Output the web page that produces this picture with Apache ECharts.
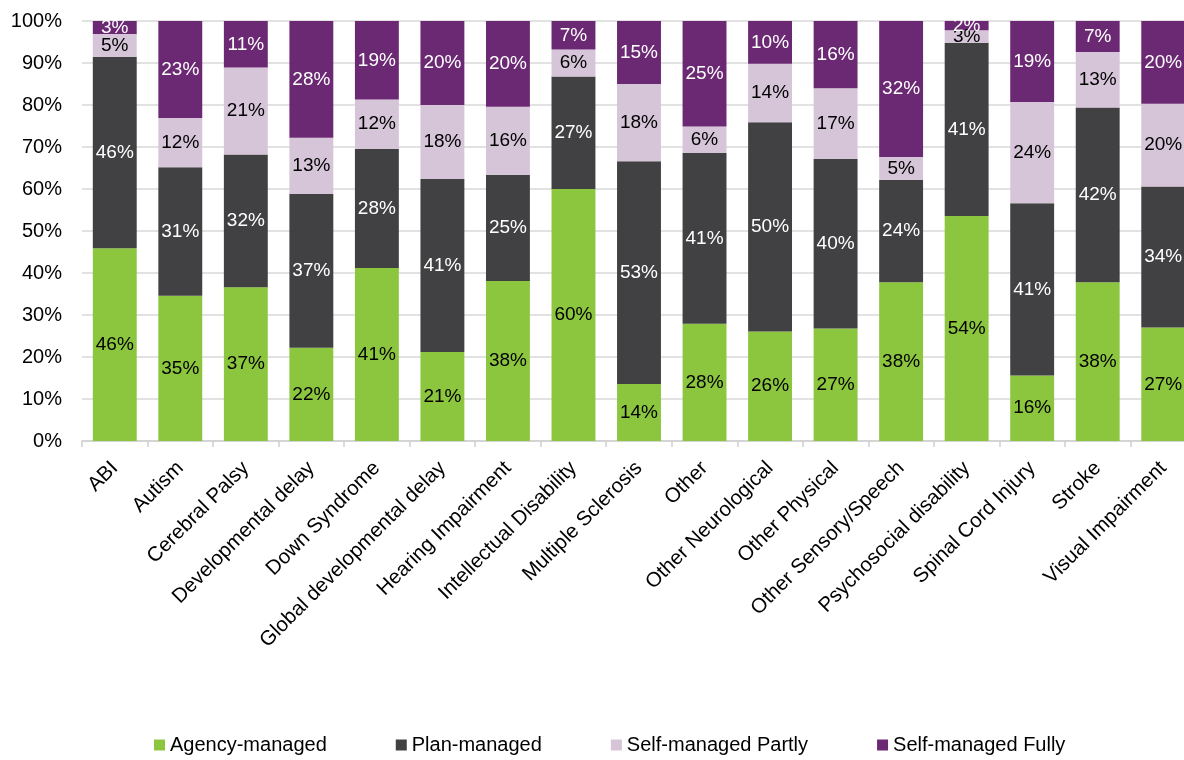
<!DOCTYPE html>
<html>
<head>
<meta charset="utf-8">
<script src="https://cdn.jsdelivr.net/npm/echarts@6/dist/echarts.min.js"></script>
<style>
  html, body { margin: 0; padding: 0; background: #fff; }
  #main { width: 1184px; height: 760px; }
</style>
</head>
<body>
<div id="main"></div>
<script>
var categories = ['ABI', 'Autism', 'Cerebral Palsy', 'Developmental delay', 'Down Syndrome',
    'Global developmental delay', 'Hearing Impairment', 'Intellectual Disability', 'Multiple Sclerosis',
    'Other', 'Other Neurological', 'Other Physical', 'Other Sensory/Speech', 'Psychosocial disability',
    'Spinal Cord Injury', 'Stroke', 'Visual Impairment'];
var agencyManaged = [45.9, 34.6, 36.6, 22.2, 41.2, 21.2, 38.1, 60.0, 13.6, 27.9, 26.1, 26.8, 37.8, 53.6, 15.6, 37.8, 27.0];
var planManaged   = [45.6, 30.6, 31.6, 36.6, 28.4, 41.2, 25.3, 26.8, 53.0, 40.7, 49.8, 40.4, 24.4, 41.2, 41.0, 41.6, 33.6];
var selfPartly    = [5.4, 11.7, 20.7, 13.4, 11.7, 17.6, 16.2, 6.4, 18.4, 6.3, 13.9, 16.8, 5.4, 3.0, 24.1, 13.2, 19.7];
var selfFully     = [3.1, 23.1, 11.1, 27.8, 18.7, 20.0, 20.4, 6.8, 15.0, 25.1, 10.2, 16.0, 32.4, 2.2, 19.3, 7.4, 19.7];
var yTicks = [0, 10, 20, 30, 40, 50, 60, 70, 80, 90, 100];

var font = 'Liberation Sans, Arial, sans-serif';

function makeSeries(name, data, color, labelColor) {
    return {
        name: name,
        type: 'bar',
        stack: 'total',
        barCategoryGap: '33%',
        data: data,
        itemStyle: { color: color },
        label: {
            show: true,
            position: 'inside',
            color: labelColor,
            fontFamily: font,
            fontSize: 19,
            formatter: function (p) { return Math.round(p.value) + '%'; }
        }
    };
}

var chart = echarts.init(document.getElementById('main'));
chart.setOption({
    animation: false,
    // the plot area runs a little past the right edge, as in the source image
    grid: { left: 82, width: 1114, top: 21, bottom: 319, containLabel: false, outerBoundsMode: 'none' },
    legend: {
        bottom: 0,
        left: 149,
        itemWidth: 11,
        itemHeight: 11,
        itemGap: 69,
        icon: 'rect',
        textStyle: { fontFamily: font, fontSize: 20, color: '#000' },
        data: ['Agency-managed', 'Plan-managed', 'Self-managed Partly', 'Self-managed Fully']
    },
    xAxis: {
        type: 'category',
        data: categories,
        axisLine: { lineStyle: { color: '#d0d0d0', width: 1.5 } },
        axisTick: { show: true, length: 6, lineStyle: { color: '#d0d0d0', width: 1.5 } },
        axisLabel: {
            rotate: 45,
            interval: 0,
            margin: 24,
            fontFamily: font,
            fontSize: 20.5,
            color: '#000'
        }
    },
    yAxis: {
        type: 'value',
        min: yTicks[0],
        max: yTicks[yTicks.length - 1],
        interval: 10,
        axisLine: { show: false },
        axisTick: { show: false },
        splitLine: { lineStyle: { color: '#d9d9d9', width: 1.5 } },
        axisLabel: {
            margin: 20,
            fontFamily: font,
            fontSize: 20,
            color: '#000',
            formatter: '{value}%'
        }
    },
    series: [
        makeSeries('Agency-managed', agencyManaged, '#8cc63f', '#000'),
        makeSeries('Plan-managed', planManaged, '#414042', '#fff'),
        makeSeries('Self-managed Partly', selfPartly, '#d6c4d9', '#000'),
        makeSeries('Self-managed Fully', selfFully, '#6b2873', '#fff')
    ]
});
</script>
</body>
</html>
